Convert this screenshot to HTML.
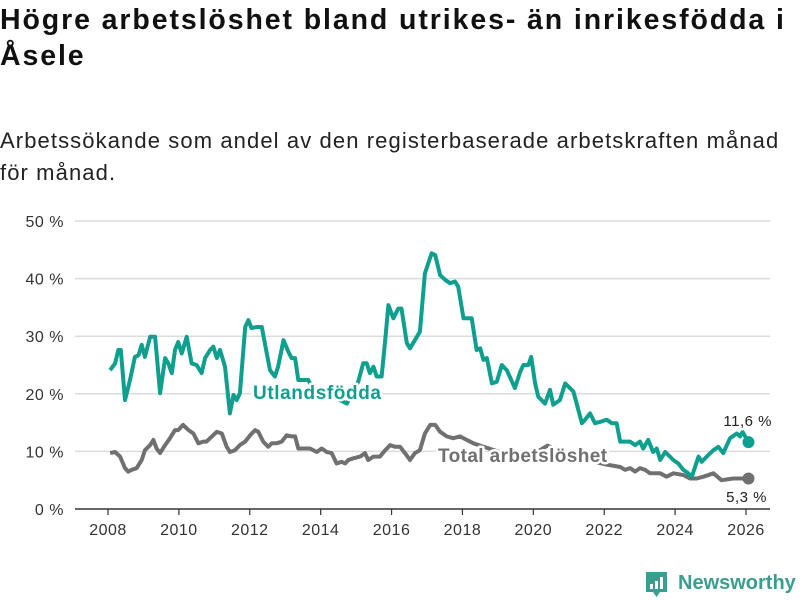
<!DOCTYPE html>
<html><head><meta charset="utf-8">
<style>
body{margin:0;background:#fff;font-family:"Liberation Sans","DejaVu Sans",sans-serif;}
#wrap{position:relative;width:800px;height:600px;overflow:hidden;}
h1{position:absolute;left:0;top:2px;margin:0;font-size:28.5px;line-height:36px;font-weight:bold;color:#111;width:800px;letter-spacing:1.9px;white-space:nowrap}
p.sub{position:absolute;left:0;top:125px;margin:0;font-size:22px;line-height:32px;color:#222;width:800px;letter-spacing:1.1px;white-space:nowrap}
svg{position:absolute;left:0;top:0}
</style></head><body>
<div id="wrap">
<h1>Högre arbetslöshet bland utrikes- än inrikesfödda i<br>Åsele</h1>
<p class="sub">Arbetssökande som andel av den registerbaserade arbetskraften månad<br>för månad.</p>
<svg id="chart" width="800" height="600"></svg>
</div>
<script>
const yTicks=[0,10,20,30,40,50];
const xTicks=[2008,2010,2012,2014,2016,2018,2020,2022,2024,2026];
const foreignYears=[2008.06,2008.2,2008.29,2008.36,2008.48,2008.62,2008.76,2008.86,2008.95,2009.04,2009.19,2009.33,2009.47,2009.61,2009.7,2009.8,2009.89,2009.98,2010.08,2010.22,2010.36,2010.5,2010.64,2010.74,2010.88,2010.97,2011.07,2011.16,2011.3,2011.44,2011.54,2011.63,2011.72,2011.87,2011.96,2012.05,2012.2,2012.34,2012.48,2012.57,2012.71,2012.8,2012.95,2013.09,2013.18,2013.28,2013.37,2013.65,2013.8,2014.36,2014.74,2015.06,2015.2,2015.3,2015.39,2015.49,2015.58,2015.72,2015.82,2015.91,2016.05,2016.19,2016.28,2016.43,2016.52,2016.66,2016.8,2016.94,2017.13,2017.23,2017.37,2017.51,2017.65,2017.79,2017.88,2018.03,2018.26,2018.4,2018.5,2018.59,2018.69,2018.83,2018.97,2019.11,2019.25,2019.48,2019.63,2019.72,2019.86,2019.94,2020.05,2020.14,2020.33,2020.47,2020.56,2020.75,2020.9,2021.13,2021.37,2021.46,2021.6,2021.74,2021.93,2022.07,2022.21,2022.35,2022.45,2022.73,2022.87,2023.01,2023.1,2023.24,2023.38,2023.48,2023.58,2023.72,2023.95,2024.09,2024.23,2024.37,2024.47,2024.66,2024.75,2024.89,2025.08,2025.22,2025.36,2025.55,2025.74,2025.83,2025.9,2026.07];
const foreignValues=[24.1,25.3,27.6,27.6,18.9,22.4,26.4,26.7,28.5,26.4,29.9,29.9,20.1,26.2,25.3,23.6,27.6,29.0,27.0,29.9,25.3,25.0,23.6,26.2,27.6,28.2,26.2,27.6,24.7,16.6,19.8,18.9,20.1,31.6,32.8,31.4,31.6,31.6,27.0,24.1,23.0,24.7,29.3,27.3,26.2,26.2,22.4,22.4,20.7,19.5,18.3,22.1,25.3,25.3,23.6,24.7,23.0,23.0,29.3,35.4,33.1,34.8,34.8,28.8,27.9,29.3,30.8,40.9,44.4,44.1,40.6,39.8,39.2,39.5,38.6,33.1,33.1,27.6,27.9,25.9,26.2,21.8,22.1,25.0,24.1,21.0,23.8,25.0,25.0,26.4,21.8,19.5,18.3,20.7,18.1,18.9,21.8,20.4,14.9,15.5,16.6,14.9,15.2,15.5,14.9,14.9,11.7,11.7,11.1,11.7,10.5,12.0,9.9,10.5,8.5,9.9,8.5,7.9,6.8,6.2,5.6,9.1,8.2,9.1,10.2,10.8,9.7,12.3,13.1,12.6,13.4,11.6];
const totalYears=[2008.06,2008.2,2008.34,2008.48,2008.57,2008.67,2008.81,2008.95,2009.04,2009.19,2009.28,2009.37,2009.47,2009.61,2009.75,2009.89,2009.98,2010.12,2010.27,2010.41,2010.55,2010.69,2010.78,2010.93,2011.07,2011.21,2011.35,2011.44,2011.58,2011.72,2011.87,2012.01,2012.15,2012.24,2012.38,2012.52,2012.62,2012.76,2012.9,2013.04,2013.18,2013.28,2013.37,2013.51,2013.7,2013.89,2014.03,2014.17,2014.31,2014.45,2014.59,2014.69,2014.78,2014.92,2015.11,2015.25,2015.34,2015.49,2015.67,2015.82,2015.96,2016.1,2016.24,2016.38,2016.52,2016.66,2016.8,2016.94,2017.09,2017.23,2017.37,2017.56,2017.74,2017.93,2018.12,2018.31,2018.5,2019.0,2019.5,2020.0,2020.4,2021.0,2021.5,2022.0,2022.45,2022.59,2022.73,2022.87,2023.01,2023.15,2023.29,2023.58,2023.76,2023.95,2024.23,2024.42,2024.61,2024.8,2025.08,2025.31,2025.64,2026.07];
const totalValues=[9.7,9.9,9.1,7.1,6.5,6.8,7.1,8.5,10.2,11.1,12.0,10.5,9.7,11.1,12.3,13.7,13.7,14.6,13.7,13.1,11.4,11.7,11.7,12.6,13.4,13.1,10.8,9.9,10.2,11.1,11.7,12.8,13.7,13.4,11.7,10.8,11.4,11.4,11.7,12.8,12.6,12.6,10.5,10.5,10.5,9.9,10.5,9.9,9.7,7.9,8.2,7.9,8.5,8.8,9.1,9.7,8.5,9.1,9.1,10.2,11.1,10.8,10.8,9.7,8.5,9.7,10.2,13.1,14.6,14.6,13.4,12.6,12.3,12.6,12.0,11.4,11.0,10.0,9.0,9.5,11.0,9.5,8.5,7.8,7.3,6.8,7.1,6.5,7.1,6.8,6.2,6.2,5.6,6.2,5.9,5.3,5.3,5.6,6.2,5.0,5.3,5.3];

const NS='http://www.w3.org/2000/svg';
const svg=document.getElementById('chart');
const X0=108,X1=746,Y0=509,Y1=221;
function xs(v){return X0+(v-2008)/(2026-2008)*(X1-X0);}
function ys(v){return Y0-v/50*(Y0-Y1);}
function mk(tag,attrs,parent){const e=document.createElementNS(NS,tag);for(const k in attrs)e.setAttribute(k,attrs[k]);(parent||svg).appendChild(e);return e;}

yTicks.forEach(t=>{
  if(t>0){const g=mk('line',{x1:75,x2:770,y1:ys(t),y2:ys(t),stroke:'#dcdcdc','stroke-width':1.5});
  
  }
  const l=mk('text',{x:64,y:ys(t)+6,'text-anchor':'end','font-size':16,fill:'#333','letter-spacing':0.5});
  l.textContent=t+' %';
  
  
});
const ax=mk('line',{x1:75,x2:770,y1:Y0,y2:Y0,stroke:'#333','stroke-width':1.5});


xTicks.forEach(t=>{
  const tk=mk('line',{x1:xs(t),x2:xs(t),y1:Y0,y2:Y0+6,stroke:'#333','stroke-width':1.2});
  
  
  const l=mk('text',{x:xs(t),y:535,'text-anchor':'middle','font-size':16,fill:'#333','letter-spacing':0.5});
  l.textContent=t;
  
  
});
function path(xa,va){return xa.map((x,i)=>(i?'L':'M')+xs(x).toFixed(1)+','+ys(va[i]).toFixed(1)).join(' ');}
const TEAL='#0e9f8f',GRAY='#707070';
const pt=mk('path',{d:path(totalYears,totalValues),fill:'none',stroke:GRAY,'stroke-width':4,'stroke-linejoin':'round'});


const pf=mk('path',{d:path(foreignYears,foreignValues),fill:'none',stroke:TEAL,'stroke-width':4,'stroke-linejoin':'round'});


const lt=totalYears.length-1,lf=foreignYears.length-1;
const dt=mk('circle',{cx:xs(totalYears[lt]),cy:ys(totalValues[lt]),r:6,fill:GRAY});


const df=mk('circle',{cx:xs(foreignYears[lf]),cy:ys(foreignValues[lf]),r:6,fill:TEAL});


function label(txt,x,y,col,size,weight,name,anchor,ls){
  const t=mk('text',{x:x,y:y,'font-size':size,'font-weight':weight,fill:col,stroke:'#fff','stroke-width':5,'paint-order':'stroke','stroke-linejoin':'round','text-anchor':anchor||'start','letter-spacing':ls||0});
  t.textContent=txt;
  
  
}
label('Utlandsfödda',253,399,TEAL,19,'bold','series-label-foreign','start',0.6);
label('Total arbetslöshet',438,462,GRAY,19,'bold','series-label-total','start',0.4);
label(foreignValues[lf].toFixed(1).replace('.',',')+' %',772,426,'#222',15,'normal','end-value-foreign','end',0.5);
label(totalValues[lt].toFixed(1).replace('.',',')+' %',767,502,'#222',15,'normal','end-value-total','end',0.5);
const lg=mk('g',{});


mk('path',{d:'M646,572 h21 v20 h-7 l-3.5,5 l-3.5,-5 h-7 z',fill:'#3a9e8f'},lg);
mk('rect',{x:650,y:584,width:3,height:5,fill:'#fff'},lg);
mk('rect',{x:655,y:581,width:3,height:8,fill:'#fff'},lg);
mk('rect',{x:660,y:577,width:3,height:12,fill:'#fff'},lg);
const lt2=mk('text',{x:678,y:589,'font-size':20,'font-weight':'bold',fill:'#3a9e8f'},lg);
lt2.textContent='Newsworthy';
</script>
</body></html>
